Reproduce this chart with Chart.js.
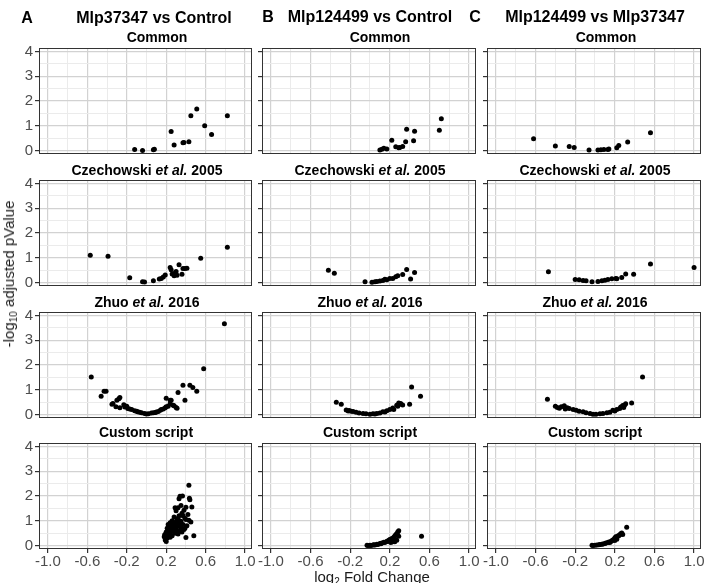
<!DOCTYPE html>
<html>
<head>
<meta charset="utf-8">
<script src="https://cdn.jsdelivr.net/npm/chart.js@4.4.1/dist/chart.umd.min.js"></script>
<style>
    body { margin: 0; background: #fff; }
    #fig { position: relative; width: 714px; height: 583px; overflow: hidden; font-family: "Liberation Sans", Arial, sans-serif; }
    #fig canvas { position: absolute; left: 0; top: 0; }
    .t { position: absolute; transform: translate(-50%, -50%); white-space: nowrap; color: #000; line-height: 1; }
    .main { font-size: 16px; font-weight: bold; }
    .sub { font-size: 14px; font-weight: bold; }
    .axis { font-size: 15px; color: #1a1a1a; }
</style>
</head>
<body>
<div id="fig">
    <div class="t main" style="left:27px;top:18px">A</div>
    <div class="t main" style="left:154px;top:18px">Mlp37347 vs Control</div>
    <div class="t main" style="left:268px;top:17px">B</div>
    <div class="t main" style="left:370px;top:17px">Mlp124499 vs Control</div>
    <div class="t main" style="left:475px;top:17px">C</div>
    <div class="t main" style="left:595px;top:17px">Mlp124499 vs Mlp37347</div>

    <div class="t sub" style="left:157px;top:37px">Common</div>
    <div class="t sub" style="left:380px;top:37px">Common</div>
    <div class="t sub" style="left:606px;top:37px">Common</div>
    <div class="t sub" style="left:147px;top:170px">Czechowski <i>et al.</i> 2005</div>
    <div class="t sub" style="left:370px;top:170px">Czechowski <i>et al.</i> 2005</div>
    <div class="t sub" style="left:595px;top:170px">Czechowski <i>et al.</i> 2005</div>
    <div class="t sub" style="left:147px;top:302px">Zhuo <i>et al.</i> 2016</div>
    <div class="t sub" style="left:370px;top:302px">Zhuo <i>et al.</i> 2016</div>
    <div class="t sub" style="left:595px;top:302px">Zhuo <i>et al.</i> 2016</div>
    <div class="t sub" style="left:146px;top:432px">Custom script</div>
    <div class="t sub" style="left:370px;top:432px">Custom script</div>
    <div class="t sub" style="left:595px;top:432px">Custom script</div>

    <div class="t axis" style="left:10px;top:274px;transform:translate(-50%,-50%) rotate(-90deg)">-log<span style="font-size:10px;vertical-align:-3px">10</span> adjusted pValue</div>
    <div class="t axis" style="left:372px;top:578px">log<span style="font-size:10px;vertical-align:-3px">2</span> Fold Change</div>
</div>
<script>
// axis ticks
const xMajor = [-1.0, -0.6, -0.2, 0.2, 0.6, 1.0]
const xMinor = [-0.8, -0.4, 0, 0.4, 0.8]
const yMajor = [0, 1, 2, 3, 4]
const yMinor = [0.5, 1.5, 2.5, 3.5]

const columns = ['A', 'B', 'C']
const rows = ['Common', 'Czechowski et al. 2005', 'Zhuo et al. 2016', 'Custom script']

// log2 fold change (x) and -log10 adjusted p (y), one pair per panel
const aCommonX = [-0.12, -0.04, 0.07, 0.08, 0.25, 0.28, 0.37, 0.38, 0.43, 0.45, 0.51, 0.59, 0.66, 0.82]
const aCommonY = [0.04, 0.00, 0.03, 0.05, 0.77, 0.22, 0.31, 0.32, 0.35, 1.40, 1.68, 1.00, 0.65, 1.40]
const bCommonX = [0.10, 0.12, 0.14, 0.17, 0.22, 0.26, 0.29, 0.30, 0.33, 0.36, 0.37, 0.44, 0.45, 0.70, 0.72]
const bCommonY = [0.02, 0.05, 0.09, 0.06, 0.42, 0.15, 0.11, 0.12, 0.16, 0.35, 0.86, 0.40, 0.78, 0.82, 1.28]
const cCommonX = [-0.62, -0.40, -0.26, -0.21, -0.06, 0.03, 0.06, 0.09, 0.13, 0.14, 0.22, 0.24, 0.33, 0.56]
const cCommonY = [0.48, 0.18, 0.16, 0.12, 0.02, 0.02, 0.03, 0.04, 0.04, 0.06, 0.11, 0.20, 0.34, 0.72]

const aCzechX = [-0.57, -0.39, -0.17, -0.04, -0.02, 0.07, 0.13, 0.15, 0.17, 0.19, 0.24, 0.25, 0.26, 0.28, 0.29, 0.30, 0.31, 0.33, 0.36, 0.37, 0.39, 0.41, 0.55, 0.82]
const aCzechY = [1.10, 1.06, 0.19, 0.03, 0.02, 0.07, 0.14, 0.16, 0.22, 0.30, 0.61, 0.52, 0.34, 0.27, 0.38, 0.45, 0.29, 0.72, 0.33, 0.57, 0.57, 0.58, 0.98, 1.42]
const bCzechX = [-0.42, -0.36, -0.05, 0.02, 0.05, 0.07, 0.10, 0.13, 0.15, 0.17, 0.20, 0.23, 0.26, 0.28, 0.33, 0.37, 0.41, 0.45]
const bCzechY = [0.50, 0.37, 0.03, 0.01, 0.03, 0.04, 0.06, 0.08, 0.13, 0.11, 0.16, 0.16, 0.23, 0.27, 0.32, 0.53, 0.14, 0.41]
const cCzechX = [-0.47, -0.20, -0.16, -0.12, -0.09, -0.03, 0.03, 0.07, 0.10, 0.13, 0.17, 0.21, 0.22, 0.27, 0.31, 0.39, 0.56, 1.00]
const cCzechY = [0.44, 0.12, 0.11, 0.08, 0.07, 0.03, 0.04, 0.07, 0.09, 0.12, 0.15, 0.16, 0.15, 0.20, 0.34, 0.33, 0.75, 0.61]

const aZhuoX = [-0.56, -0.46, -0.43, -0.41, -0.35, -0.34, -0.31, -0.30, -0.28, -0.27, -0.27, -0.23, -0.22, -0.20, -0.19, -0.17, -0.15, -0.12, -0.10, -0.09, -0.07, -0.05, -0.02, 0.00, 0.02, 0.05, 0.07, 0.09, 0.10, 0.12, 0.14, 0.15, 0.17, 0.19, 0.20, 0.20, 0.22, 0.24, 0.24, 0.25, 0.27, 0.28, 0.30, 0.31, 0.32, 0.37, 0.39, 0.44, 0.47, 0.51, 0.58, 0.79]
const aZhuoY = [1.52, 0.74, 0.94, 0.94, 0.42, 0.45, 0.31, 0.58, 0.64, 0.69, 0.27, 0.40, 0.30, 0.33, 0.24, 0.22, 0.20, 0.15, 0.13, 0.11, 0.09, 0.07, 0.04, 0.02, 0.03, 0.06, 0.07, 0.08, 0.10, 0.12, 0.17, 0.20, 0.22, 0.27, 0.31, 0.66, 0.33, 0.44, 0.58, 0.58, 0.37, 0.35, 0.28, 0.25, 0.89, 1.18, 0.58, 1.18, 1.09, 0.94, 1.85, 3.67]
const bZhuoX = [-0.34, -0.29, -0.24, -0.22, -0.21, -0.19, -0.17, -0.14, -0.11, -0.07, -0.04, 0.00, 0.03, 0.05, 0.07, 0.10, 0.13, 0.15, 0.17, 0.20, 0.23, 0.24, 0.27, 0.28, 0.29, 0.30, 0.31, 0.33, 0.40, 0.42, 0.51]
const bZhuoY = [0.50, 0.42, 0.18, 0.14, 0.16, 0.13, 0.12, 0.09, 0.06, 0.04, 0.03, 0.01, 0.03, 0.02, 0.04, 0.06, 0.11, 0.10, 0.15, 0.20, 0.26, 0.20, 0.37, 0.33, 0.47, 0.42, 0.45, 0.38, 0.42, 1.11, 0.74]
const cZhuoX = [-0.48, -0.40, -0.38, -0.36, -0.34, -0.31, -0.30, -0.28, -0.26, -0.22, -0.19, -0.16, -0.12, -0.09, -0.05, -0.02, 0.01, 0.05, 0.08, 0.12, 0.15, 0.18, 0.20, 0.22, 0.25, 0.26, 0.28, 0.29, 0.30, 0.31, 0.37, 0.48]
const cZhuoY = [0.62, 0.33, 0.28, 0.25, 0.31, 0.35, 0.22, 0.27, 0.24, 0.20, 0.17, 0.13, 0.11, 0.07, 0.04, 0.01, 0.01, 0.03, 0.04, 0.07, 0.09, 0.17, 0.14, 0.20, 0.24, 0.30, 0.36, 0.28, 0.38, 0.44, 0.47, 1.52]

const aCustomX = [0.43, 0.435, 0.44, 0.34, 0.365, 0.33, 0.46, 0.29, 0.32, 0.35, 0.40, 0.38, 0.30, 0.36, 0.42, 0.33, 0.28, 0.39, 0.45, 0.43, 0.31, 0.26, 0.35, 0.24, 0.29, 0.33, 0.37, 0.41, 0.22, 0.27, 0.31, 0.25, 0.35, 0.39, 0.21, 0.28, 0.23, 0.30, 0.34, 0.26, 0.20, 0.24, 0.29, 0.32, 0.19, 0.22, 0.26, 0.18, 0.21, 0.24, 0.19, 0.20, 0.185, 0.48, 0.40, 0.36, 0.38, 0.27, 0.32, 0.26, 0.29, 0.23, 0.25, 0.30, 0.33, 0.28, 0.34, 0.37, 0.40, 0.31]
const aCustomY = [2.43, 1.91, 1.85, 1.99, 2.00, 1.89, 1.56, 1.53, 1.53, 1.62, 1.55, 1.42, 1.40, 1.30, 1.25, 1.20, 1.15, 1.10, 0.95, 1.02, 1.05, 1.00, 0.98, 0.92, 0.90, 0.88, 0.85, 0.80, 0.85, 0.82, 0.78, 0.75, 0.72, 0.70, 0.70, 0.68, 0.62, 0.62, 0.60, 0.58, 0.55, 0.52, 0.50, 0.47, 0.45, 0.42, 0.40, 0.35, 0.30, 0.33, 0.22, 0.16, 0.44, 0.39, 0.32, 0.55, 0.65, 0.95, 1.10, 0.65, 0.78, 0.78, 0.88, 0.72, 0.78, 0.58, 0.95, 1.20, 1.05, 0.92]
const bCustomX = [-0.03, -0.02, 0.00, 0.01, 0.03, 0.04, 0.05, 0.07, 0.08, 0.10, 0.11, 0.12, 0.14, 0.15, 0.17, 0.18, 0.19, 0.20, 0.21, 0.22, 0.23, 0.24, 0.25, 0.26, 0.27, 0.28, 0.29, 0.29, 0.27, 0.25, 0.23, 0.21, 0.52]
const bCustomY = [0.01, 0.00, 0.01, 0.00, 0.02, 0.03, 0.02, 0.05, 0.04, 0.08, 0.07, 0.10, 0.13, 0.12, 0.17, 0.16, 0.21, 0.24, 0.22, 0.28, 0.27, 0.33, 0.38, 0.44, 0.48, 0.55, 0.60, 0.37, 0.21, 0.15, 0.15, 0.12, 0.37]
const cCustomX = [-0.03, -0.02, 0.00, 0.02, 0.04, 0.05, 0.07, 0.08, 0.10, 0.11, 0.13, 0.14, 0.16, 0.17, 0.18, 0.19, 0.20, 0.21, 0.22, 0.23, 0.24, 0.25, 0.26, 0.27, 0.28, 0.32, 0.20, 0.22, 0.15]
const cCustomY = [0.01, 0.00, 0.01, 0.02, 0.03, 0.04, 0.05, 0.06, 0.08, 0.10, 0.12, 0.14, 0.16, 0.19, 0.22, 0.24, 0.30, 0.35, 0.31, 0.38, 0.40, 0.44, 0.48, 0.51, 0.45, 0.74, 0.20, 0.25, 0.12]

const panels = [
    [[aCommonX, aCommonY], [bCommonX, bCommonY], [cCommonX, cCommonY]],
    [[aCzechX, aCzechY], [bCzechX, bCzechY], [cCzechX, cCzechY]],
    [[aZhuoX, aZhuoY], [bZhuoX, bZhuoY], [cZhuoX, cZhuoY]],
    [[aCustomX, aCustomY], [bCustomX, bCustomY], [cCustomX, cCustomY]]
]

// panel placement on the page
const W = 714, H = 583
const colLeft = [39, 262, 487]
const colRight = [252, 476, 701]
const rowTop = [48, 180, 312, 443]
const rowBottom = [154, 286, 418, 549]
const xLabelBand = 28 // room for x tick labels on the bottom row

const fontFamily = '"Liberation Sans", Arial, sans-serif'
const majorGrid = '#d2d2d2'
const minorGrid = '#ebebeb'

const near = (v, list) => list.some(m => Math.abs(m - v) < 1e-6)

// panel border (theme_bw style)
const frame = {
    id: 'frame',
    afterDraw(chart) {
        const a = chart.chartArea
        const c = chart.ctx
        c.save()
        c.strokeStyle = '#333333'
        c.lineWidth = 1
        c.strokeRect(a.left + 0.5, a.top + 0.5, a.right - a.left - 1, a.bottom - a.top - 1)
        c.restore()
    }
}

const fig = document.getElementById('fig')

const render = function(r, c) {
    const [xs, ys] = panels[r][c]
    const canvas = document.createElement('canvas')
    canvas.width = W
    canvas.height = H
    fig.insertBefore(canvas, fig.firstChild)
    const showX = r === rows.length - 1
    const showY = c === 0
    // axes that carry labels get a real box (labels are clipped to it)
    const yWidth = showY ? colLeft[c] : 0
    const xHeight = showX ? xLabelBand : 0

    new Chart(canvas.getContext('2d'), {
        type: 'scatter',
        data: {
            datasets: [{
                data: xs.map((x, i) => ({ x: x, y: ys[i] })),
                backgroundColor: '#000000',
                borderWidth: 0,
                pointRadius: 2.5
            }]
        },
        options: {
            responsive: false,
            animation: false,
            events: [],
            layout: {
                padding: {
                    left: colLeft[c] - yWidth,
                    right: W - colRight[c],
                    top: rowTop[r],
                    bottom: H - rowBottom[r] - xHeight
                }
            },
            scales: {
                x: {
                    type: 'linear',
                    min: -1.09,
                    max: 1.07,
                    afterBuildTicks: s => { s.ticks = xMajor.concat(xMinor).sort((a, b) => a - b).map(v => ({ value: v })) },
                    afterFit: s => { s.height = xHeight; s.paddingLeft = 0; s.paddingRight = 0 },
                    border: { display: false },
                    grid: {
                        color: ctx => near(ctx.tick.value, xMajor) ? majorGrid : minorGrid,
                        lineWidth: ctx => near(ctx.tick.value, xMajor) ? 1.2 : 1,
                        drawTicks: showX,
                        tickLength: 4,
                        tickColor: ctx => near(ctx.tick.value, xMajor) ? '#333333' : 'rgba(0,0,0,0)'
                    },
                    ticks: {
                        display: showX,
                        autoSkip: false,
                        maxRotation: 0,
                        padding: 0,
                        color: '#4d4d4d',
                        font: { family: fontFamily, size: 15 },
                        callback: v => near(v, xMajor) ? v.toFixed(1) : ''
                    }
                },
                y: {
                    type: 'linear',
                    min: -0.14,
                    max: 4.14,
                    afterBuildTicks: s => { s.ticks = yMajor.concat(yMinor).sort((a, b) => a - b).map(v => ({ value: v })) },
                    afterFit: s => { s.width = yWidth; s.paddingTop = 0; s.paddingBottom = 0 },
                    border: { display: false },
                    grid: {
                        color: ctx => near(ctx.tick.value, yMajor) ? majorGrid : minorGrid,
                        lineWidth: ctx => near(ctx.tick.value, yMajor) ? 1.2 : 1,
                        drawTicks: true,
                        tickLength: 4,
                        tickColor: ctx => near(ctx.tick.value, yMajor) ? '#333333' : 'rgba(0,0,0,0)'
                    },
                    ticks: {
                        display: showY,
                        autoSkip: false,
                        padding: 2,
                        color: '#4d4d4d',
                        font: { family: fontFamily, size: 15 },
                        callback: v => near(v, yMajor) ? String(v) : ''
                    }
                }
            },
            plugins: {
                legend: { display: false },
                tooltip: { enabled: false }
            }
        },
        plugins: [frame]
    })
}

for (let r = 0; r < rows.length; r++) {
    for (let c = 0; c < columns.length; c++) {
        render(r, c)
    }
}
</script>
</body>
</html>
